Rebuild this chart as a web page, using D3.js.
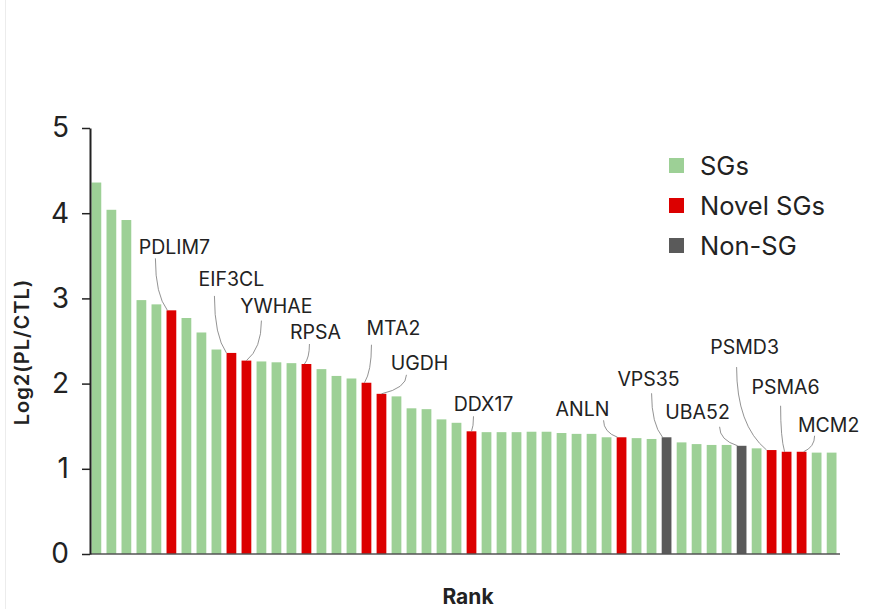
<!DOCTYPE html>
<html>
<head>
<meta charset="utf-8">
<script src="https://cdn.jsdelivr.net/npm/d3@7"></script>
<style>
  body { margin: 0; background: #fff; }
  svg text { font-family: Inter, "Open Sans", sans-serif; fill: #222; }
</style>
</head>
<body>
<div id="plot"></div>
<script>
// Bar values, in rank order
const values = [4.36, 4.04, 3.92, 2.98, 2.93, 2.86, 2.77, 2.60, 2.40, 2.36,
    2.27, 2.26, 2.25, 2.24, 2.23, 2.17, 2.09, 2.06, 2.01, 1.88,
    1.85, 1.71, 1.70, 1.58, 1.54, 1.44, 1.43, 1.43, 1.43, 1.435,
    1.435, 1.42, 1.41, 1.41, 1.37, 1.37, 1.36, 1.35, 1.37, 1.31,
    1.29, 1.28, 1.28, 1.27, 1.24, 1.22, 1.20, 1.20, 1.19, 1.19];

// Group of each bar: s = SGs, n = Novel SGs, x = Non-SG
const groupCodes = [
    "s", "s", "s", "s", "s", "n", "s", "s", "s", "n",
    "n", "s", "s", "s", "n", "s", "s", "s", "n", "n",
    "s", "s", "s", "s", "s", "n", "s", "s", "s", "s",
    "s", "s", "s", "s", "s", "n", "s", "s", "x", "s",
    "s", "s", "s", "x", "s", "n", "n", "n", "s", "s"];

const legendNames = ["SGs", "Novel SGs", "Non-SG"];
const legendCodes = ["s", "n", "x"];
const yTicks = [0, 1, 2, 3, 4, 5];

// Labelled genes and the rank index of their bar
const geneNames = ["PDLIM7", "EIF3CL", "YWHAE", "RPSA", "MTA2", "UGDH", "DDX17",
    "ANLN", "VPS35", "UBA52", "PSMD3", "PSMA6", "MCM2"];
const geneIndex = [5, 9, 10, 14, 18, 19, 25, 35, 38, 43, 45, 46, 47];

// Label placement relative to the bar top: text [dx, dy], leader start [dx, dy], leader end dx
const labelLayout = [
    [3, -56, -16, -52, -4],
    [0, -67, -17, -57, -5],
    [30, -48, 15, -40, 0],
    [9, -25, 3, -20, -2],
    [27, -48, 5, -38, -2],
    [38, -24, 25, -19, 0],
    [12, -20, 2, -15, 0],
    [-39, -21, -18, -17, -4],
    [-18, -51, -15, -44, -4],
    [-44, -27, -22, -19, -4],
    [-27, -96, -35, -83, -5],
    [-1, -58, -6, -46, -2],
    [27, -20, 13, -16, 2]];

const color = {s: "#9dd096", n: "#dc0000", x: "#5a5a5a"};

const W = 878, H = 609;
const svg = d3.select("#plot").append("svg")
    .attr("width", W)
    .attr("height", H);

// faint page edge on the left
svg.append("line")
    .attr("x1", 5.5).attr("x2", 5.5)
    .attr("y1", 0).attr("y2", H)
    .attr("stroke", "#ececec");

const x = d3.scaleBand()
    .domain(d3.range(values.length))
    .range([90, 838])
    .paddingInner(0.35)
    .paddingOuter(0.1);

const y = d3.scaleLinear()
    .domain([0, 5])
    .range([554, 128]);

// Bars
svg.append("g")
    .selectAll("rect")
    .data(values)
    .join("rect")
    .attr("x", (d, i) => x(i))
    .attr("y", d => y(d))
    .attr("width", x.bandwidth())
    .attr("height", d => y(0) - y(d))
    .attr("fill", (d, i) => color[groupCodes[i]]);

// X axis (line only)
svg.append("line")
    .attr("x1", 90).attr("x2", 840)
    .attr("y1", y(0)).attr("y2", y(0))
    .attr("stroke", "#555")
    .attr("stroke-width", 1.5);

// Y axis
const yAxis = svg.append("g")
    .attr("transform", "translate(90,0)")
    .call(d3.axisLeft(y)
        .tickValues(yTicks)
        .tickFormat(d3.format("d"))
        .tickSize(8)
        .tickSizeOuter(0)
        .tickPadding(13));
yAxis.select(".domain").attr("stroke", "#222").attr("stroke-width", 2);
yAxis.selectAll(".tick line").attr("stroke", "#222").attr("stroke-width", 1.5);
yAxis.selectAll(".tick text")
    .style("font-family", "Inter, sans-serif")
    .style("font-size", "28px")
    .attr("fill", "#222");

// Axis labels
svg.append("text")
    .attr("transform", "translate(29,352) rotate(-90)")
    .attr("text-anchor", "middle")
    .style("font-size", "20px")
    .style("font-weight", 600)
    .style("letter-spacing", "1px")
    .text("Log2(PL/CTL)");

svg.append("text")
    .attr("x", 468)
    .attr("y", 604)
    .attr("text-anchor", "middle")
    .style("font-size", "21px")
    .style("font-weight", 700)
    .text("Rank");

// Gene labels with leader lines
geneNames.forEach((name, k) => {
    const i = geneIndex[k];
    const [tx, ty, sx, sy, ex] = labelLayout[k];
    const cx = x(i) + x.bandwidth() / 2;
    const top = y(values[i]);
    const x0 = cx + sx, y0 = top + sy;
    const x1 = cx + ex, y1 = top;
    const path = d3.path();
    path.moveTo(x0, y0);
    path.quadraticCurveTo(x0, y0 + (y1 - y0) * 0.7, x1, y1);
    svg.append("path")
        .attr("d", path.toString())
        .attr("fill", "none")
        .attr("stroke", "#777")
        .attr("stroke-width", 0.8);
    svg.append("text")
        .attr("x", cx + tx)
        .attr("y", top + ty)
        .attr("text-anchor", "middle")
        .style("font-size", "19.5px")
        .text(name);
});

// Legend
const legend = svg.append("g")
    .selectAll("g")
    .data(legendNames)
    .join("g")
    .attr("transform", (d, i) => `translate(669,${158 + i * 40})`);
legend.append("rect")
    .attr("width", 15)
    .attr("height", 15)
    .attr("fill", (d, i) => color[legendCodes[i]]);
legend.append("text")
    .attr("x", 31)
    .attr("y", 17)
    .style("font-size", "25.5px")
    .text(d => d);
</script>
</body>
</html>
